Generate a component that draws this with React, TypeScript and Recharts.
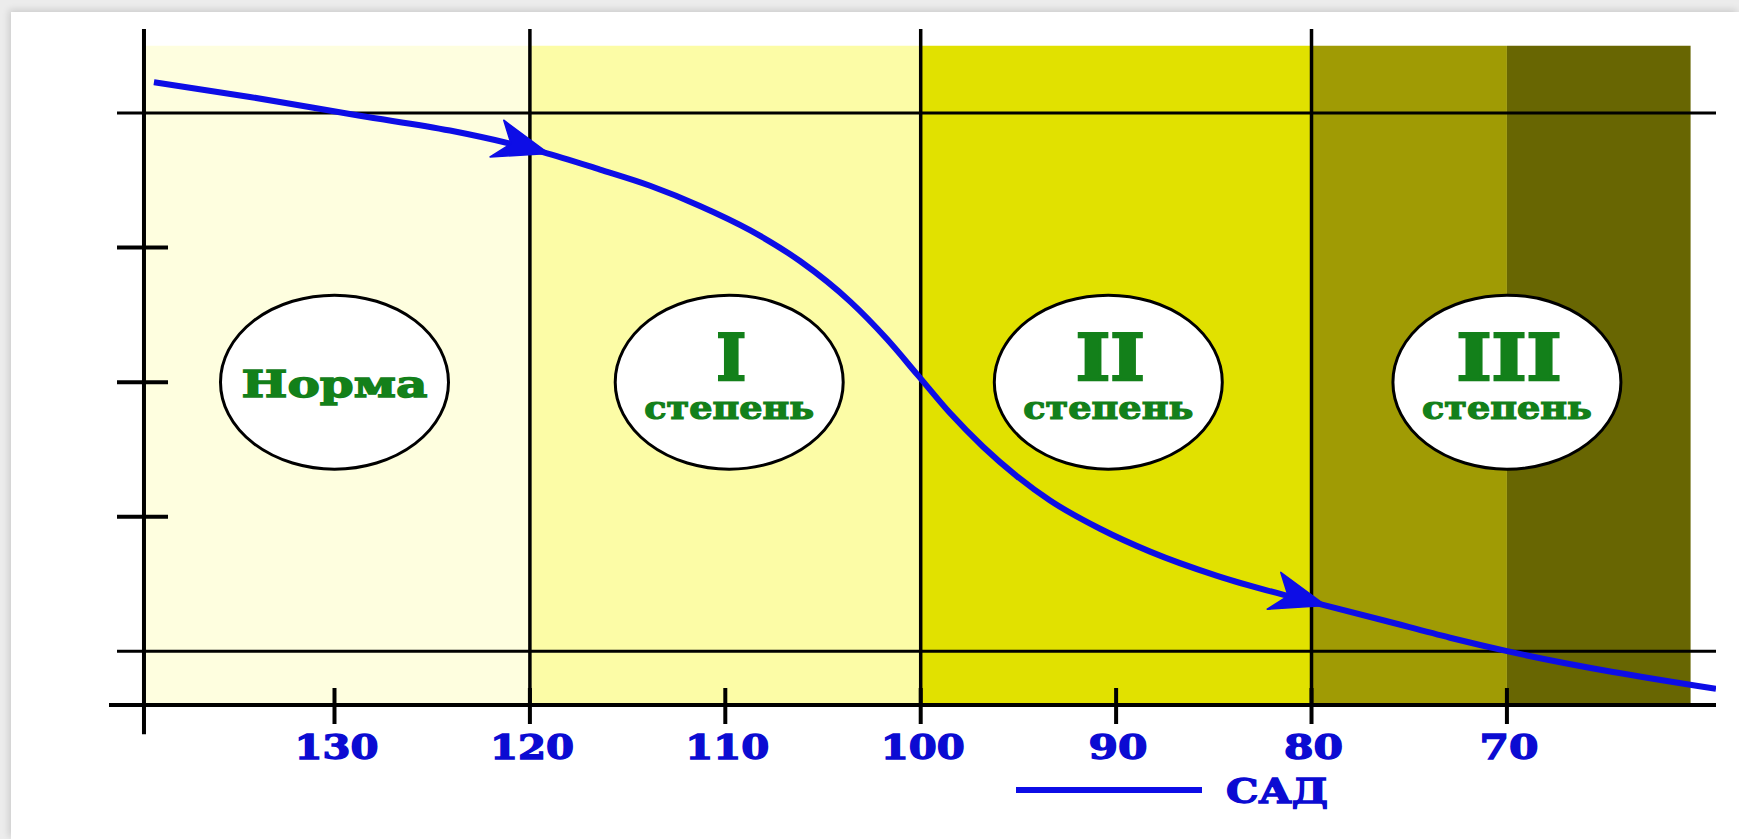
import React from "react";
import {
  ComposedChart,
  Legend,
  Line,
  ReferenceArea,
  ReferenceLine,
  Scatter,
  XAxis,
  YAxis,
} from "recharts";

const W = 1739;
const H = 839;

const SERIF = "'DejaVu Serif', 'Liberation Serif', serif";
const BLUE = "#0d0de6";
const LABEL_BLUE = "#0b0bd2";
const GREEN = "#13801a";

// САД curve (pressure on x, relative level on y)
const sadX = [139.24, 134.33, 128.7, 124.09, 119.33, 116.41, 113.85, 111.3, 108.74, 106.18, 103.62, 101.73, 100.14, 98.5, 96.81, 95.07, 93.38, 90.82, 88.26, 84.83, 81.46, 79.56, 76.34, 72.91, 69.99, 59.3];
const sadY = [4.23, 4.12, 3.98, 3.87, 3.71, 3.58, 3.46, 3.31, 3.13, 2.9, 2.6, 2.32, 2.05, 1.77, 1.52, 1.3, 1.12, 0.91, 0.74, 0.56, 0.42, 0.35, 0.23, 0.1, 0.0, -0.28];
const arrowAt = [119.33, 79.56];

// coloured zones
const zoneEdges = [139.75, 120, 100, 80, 70, 60.6];
const zoneColors = ["#fefedf", "#fcfca6", "#e1e100", "#a09b04", "#686602"];
const zoneBottom = -0.4;
const zoneTop = 4.5;

// stage labels
const stageNames = ["Норма", "I", "II", "III"];
const stageX = [130, 109.8, 90.4, 70];
const stageY = [2, 2, 2, 2];

const xTicks = [130, 120, 110, 100, 90, 80, 70];
const dividers = [120, 100, 80];
const gridY = [0, 4];
const yTicks = [1, 2, 3];

const X_DOMAIN: [number, number] = [59.3, 141.54];
const Y_DOMAIN: [number, number] = [-0.4, 4.625];
const AXIS_X = 139.75;
const AXIS_Y_LOW = -0.617;
const TICK_LEFT = 141.13;
const TICK_RIGHT = 138.52;

const curve = sadX.map((x, i) => ({ x, y: sadY[i] }));
const stages = stageNames.map((name, i) => ({ x: stageX[i], y: stageY[i], name }));

const TICK_SIZE = 8;

function XTick(props: any) {
  const { x, y, payload } = props;
  const axisY = y - TICK_SIZE;
  const v = payload.value;
  return (
    <g>
      <line x1={x} x2={x} y1={axisY - 17} y2={axisY + 19} stroke="#000" strokeWidth={4} />
      <text
        x={x + 2}
        y={axisY + 54}
        textAnchor="middle"
        fill={LABEL_BLUE}
        stroke={LABEL_BLUE}
        strokeWidth={1.3}
        fontFamily={SERIF}
        fontWeight="bold"
        fontSize={33}
        textLength={v >= 100 ? 84 : 59}
        lengthAdjust="spacingAndGlyphs"
      >
        {v}
      </text>
    </g>
  );
}

function Arrow(props: any) {
  const { cx, cy, index, payload, points } = props;
  if (!arrowAt.includes(payload.x) || cx == null) return <g key={`a-${index}`} />;
  let angle = 13;
  if (points && points[index - 1] && points[index + 1]) {
    const a = points[index - 1];
    const b = points[index + 1];
    angle = (Math.atan2(b.y - a.y, b.x - a.x) * 180) / Math.PI;
  }
  return (
    <g key={`a-${index}`} transform={`translate(${cx},${cy}) rotate(${angle})`}>
      <polygon points="6,0 -46,-21 -33,0 -50,18" fill={BLUE} stroke={BLUE} strokeWidth={1.5} strokeLinejoin="round" />
    </g>
  );
}

const romanWidth = [0, 30, 69, 105];

function Stage(props: any) {
  const { cx, cy, payload } = props;
  const name: string = payload.name;
  const common = {
    textAnchor: "middle" as const,
    fill: GREEN,
    stroke: GREEN,
    fontFamily: SERIF,
    fontWeight: "bold",
    lengthAdjust: "spacingAndGlyphs",
  };
  return (
    <g>
      <ellipse cx={cx} cy={cy} rx={114} ry={87} fill="#fff" stroke="#000" strokeWidth={3} />
      {name === "Норма" ? (
        <text {...common} strokeWidth={1.4} x={cx} y={cy + 15} fontSize={38} textLength={186}>
          {name}
        </text>
      ) : (
        <>
          <text {...common} strokeWidth={2.5} x={cx + 2} y={cy - 2} fontSize={63} textLength={romanWidth[name.length]}>
            {name}
          </text>
          <text {...common} strokeWidth={1.2} x={cx} y={cy + 37} fontSize={31} textLength={170}>
            степень
          </text>
        </>
      )}
    </g>
  );
}

function LegendContent(props: any) {
  const items = (props.payload || []).filter((p: any) => p.type !== "none");
  return (
    <svg width={340} height={44} style={{ display: "block" }}>
      {items.map((p: any) => (
        <g key={p.value}>
          <line x1={0} x2={186} y1={19} y2={19} stroke={BLUE} strokeWidth={6} />
          <text
            x={210}
            y={32}
            fill={LABEL_BLUE}
            stroke={LABEL_BLUE}
            strokeWidth={1.3}
            fontFamily={SERIF}
            fontWeight="bold"
            fontSize={33}
            textLength={102}
            lengthAdjust="spacingAndGlyphs"
          >
            {p.value}
          </text>
        </g>
      ))}
    </svg>
  );
}

export default function App() {
  return (
    <div style={{ position: "absolute", left: 0, top: 0, width: W, height: H, background: "#ececec", overflow: "hidden" }}>
      <div
        style={{
          position: "absolute",
          left: 11,
          top: 12,
          width: W - 11,
          height: H - 12,
          background: "#fff",
          boxShadow: "-2px -2px 7px rgba(0,0,0,0.14)",
        }}
      />
      <div style={{ position: "absolute", left: 0, top: 0 }}>
        <ComposedChart width={W} height={H} margin={{ top: 29, right: 23, bottom: 74, left: 109 }}>
          <XAxis
            type="number"
            dataKey="x"
            domain={X_DOMAIN}
            allowDataOverflow
            reversed
            ticks={xTicks}
            interval={0}
            height={60}
            tickSize={TICK_SIZE}
            tickMargin={0}
            tickLine={false}
            axisLine={{ stroke: "#000", strokeWidth: 4 }}
            tick={<XTick />}
          />
          <YAxis type="number" dataKey="y" domain={Y_DOMAIN} allowDataOverflow hide />

          {zoneColors.map((c, i) => (
            <ReferenceArea
              key={c}
              x1={zoneEdges[i]}
              x2={zoneEdges[i + 1]}
              y1={zoneBottom}
              y2={zoneTop}
              fill={c}
              fillOpacity={1}
              stroke="none"
              ifOverflow="visible"
            />
          ))}

          {gridY.map((y) => (
            <ReferenceLine
              key={`g${y}`}
              segment={[{ x: TICK_LEFT, y }, { x: X_DOMAIN[0], y }]}
              stroke="#000"
              strokeWidth={3}
              ifOverflow="visible"
            />
          ))}
          {yTicks.map((y) => (
            <ReferenceLine
              key={`t${y}`}
              segment={[{ x: TICK_LEFT, y }, { x: TICK_RIGHT, y }]}
              stroke="#000"
              strokeWidth={4}
              ifOverflow="visible"
            />
          ))}
          {dividers.map((x) => (
            <ReferenceLine
              key={`d${x}`}
              segment={[{ x, y: Y_DOMAIN[0] }, { x, y: Y_DOMAIN[1] }]}
              stroke="#000"
              strokeWidth={3.5}
              ifOverflow="visible"
            />
          ))}
          <ReferenceLine
            segment={[{ x: AXIS_X, y: AXIS_Y_LOW }, { x: AXIS_X, y: Y_DOMAIN[1] }]}
            stroke="#000"
            strokeWidth={4}
            ifOverflow="visible"
          />

          <Line
            data={curve}
            dataKey="y"
            name="САД"
            type="monotone"
            stroke={BLUE}
            strokeWidth={6}
            dot={Arrow}
            activeDot={false}
            isAnimationActive={false}
          />
          <Scatter
            data={stages}
            dataKey="y"
            legendType="none"
            shape={Stage}
            isAnimationActive={false}
          />
          <Legend
            layout="horizontal"
            verticalAlign="middle"
            align="center"
            wrapperStyle={{ left: 1016, top: 771, width: 340, height: 44 }}
            content={<LegendContent />}
          />
        </ComposedChart>
      </div>
    </div>
  );
}
